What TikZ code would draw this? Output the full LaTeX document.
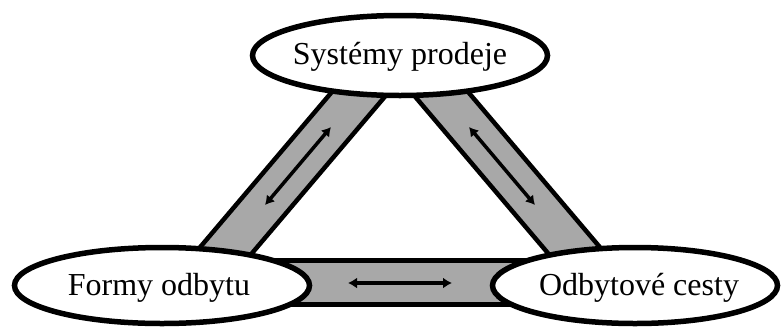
\documentclass[tikz,border=0pt]{standalone}
\usepackage{fontspec}
\setmainfont{Liberation Serif}
\usetikzlibrary{shapes.geometric,arrows.meta}
\definecolor{barfill}{RGB}{168,168,168}
\tikzset{
  oval/.style={draw=black, line width=5.5pt, fill=white, ellipse, inner sep=0pt},
  bar/.style={draw=black, line width=4.5pt, fill=barfill, line join=miter},
  twoway/.style={line width=3.5pt, {Latex[length=9pt,width=11pt]}-{Latex[length=9pt,width=11pt]}},
  caption/.style={font=\fontsize{32}{38}\selectfont, inner sep=0pt}
}
\begin{document}
\begin{tikzpicture}[x=1pt,y=-1pt]
  \useasboundingbox (0,0) rectangle (781,327);

  % shaded bands linking the three ovals
  \filldraw[bar] (342,80) -- (399,80) -- (242,265) -- (185,265) -- cycle;
  \filldraw[bar] (458,80) -- (401,80) -- (558,265) -- (615,265) -- cycle;
  \filldraw[bar] (250,260.5) rectangle (545,304.5);

  % double-headed arrows inside the bands
  \coordinate (l1) at (265,205);
  \coordinate (l2) at (331,127);
  \coordinate (r1) at (469,127);
  \coordinate (r2) at (535,205);
  \coordinate (b1) at (348,283);
  \coordinate (b2) at (452,283);
  \draw[twoway] (l1) -- (l2);
  \draw[twoway] (r1) -- (r2);
  \draw[twoway] (b1) -- (b2);

  % the three ovals
  \node[oval, minimum width=295pt, minimum height=80pt] (top) at (400,55.5) {};
  \node[oval, minimum width=295pt, minimum height=76pt] (left) at (162,285.5) {};
  \node[oval, minimum width=285pt, minimum height=76pt] (right) at (635,285.5) {};

  \node[caption] (toptext) at (400,57) {Systémy prodeje};
  \node[caption] (lefttext) at (159,288) {Formy odbytu};
  \node[caption] (righttext) at (639,288) {Odbytové cesty};
\end{tikzpicture}
\end{document}
